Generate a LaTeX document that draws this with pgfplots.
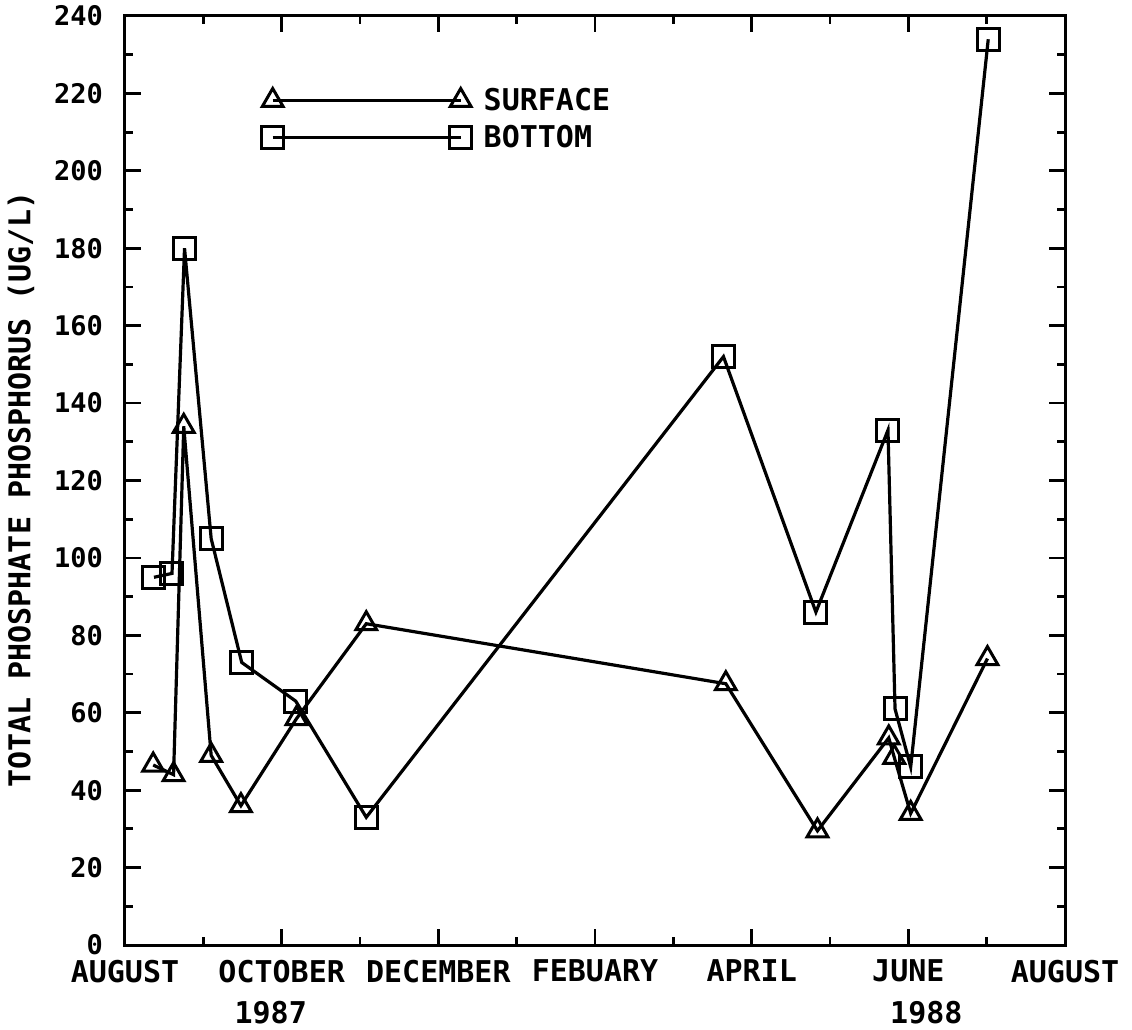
\documentclass[border=0pt]{standalone}
\usepackage{fontspec}
\setmainfont{DejaVu Sans Mono}
\usepackage{pgfplots}
\pgfplotsset{compat=1.18}

% months counted from August 1987 (= 0)
\pgfplotstableread{
x     y
0.36  46.5
0.62  44
0.75  134
1.10  49
1.48  36
2.19  58.5
3.08  83
7.67  67.5
8.84  29.5
9.75  53.5
9.82  48.5
10.03 34
11.01 74
}\surface

\pgfplotstableread{
x     y
0.37  95
0.60  96
0.76  180
1.10  105
1.49  73
2.18  63
3.08  33
7.64  152
8.82  86
9.74  133
9.83  61
10.03 46
11.02 234
}\bottom

\newcommand{\bigf}{\fontsize{15}{15}\selectfont\bfseries}

\begin{document}
\begin{tikzpicture}
\begin{axis}[
    name=ax,
    scale only axis,
    width=470pt, height=464.5pt,
    xmin=0, xmax=12, ymin=0, ymax=240,
    xtick={0,2,...,12},
    xticklabels={AUGUST,OCTOBER,DECEMBER,FEBUARY,APRIL,JUNE,AUGUST},
    minor xtick={1,3,...,11},
    ytick={0,20,...,240},
    minor ytick={10,30,...,230},
    tick align=inside,
    major tick length=8pt, minor tick length=4pt,
    tick style={line width=1.4pt, black},
    axis line style={line width=1.5pt},
    /pgf/number format/assume math mode=true,
    yticklabel style={font=\fontsize{13.5}{13.5}\selectfont\bfseries, xshift=-7.5pt},
    xticklabel style={font=\bigf, yshift=-4pt},
    ylabel={TOTAL PHOSPHATE PHOSPHORUS (UG/L)},
    every axis y label/.style={at={(axis description cs:0,0.49)}, xshift=-52pt,
        rotate=90, anchor=center, font=\bigf},
    clip=false,
    legend image code/.code={\draw[mark repeat=1,#1] plot coordinates {(0pt,0pt) (94pt,0pt)};},
    legend style={draw=none, fill=none, at={(axis description cs:0.145,0.889)},
        anchor=west, font=\bigf, inner sep=0pt, row sep=2pt},
    legend cell align=left,
]
\addplot[line width=1.6pt, mark=triangle, mark size=6pt,
    mark options={line width=1.5pt}] table {\surface};
\addlegendentry{\hspace{4pt}SURFACE}
\addplot[line width=1.6pt, mark=square, mark size=5.5pt,
    mark options={line width=1.5pt}] table {\bottom};
\addlegendentry{\hspace{4pt}BOTTOM}

\node[font=\bigf, yshift=-34pt] at (axis cs:1.86,0) {1987};
\node[font=\bigf, yshift=-34pt] at (axis cs:10.23,0) {1988};
\end{axis}
\pgfresetboundingbox
\path ([xshift=-62.5pt,yshift=-42pt]ax.south west) rectangle ([xshift=33.5pt,yshift=8pt]ax.north east);
\end{tikzpicture}
\end{document}
